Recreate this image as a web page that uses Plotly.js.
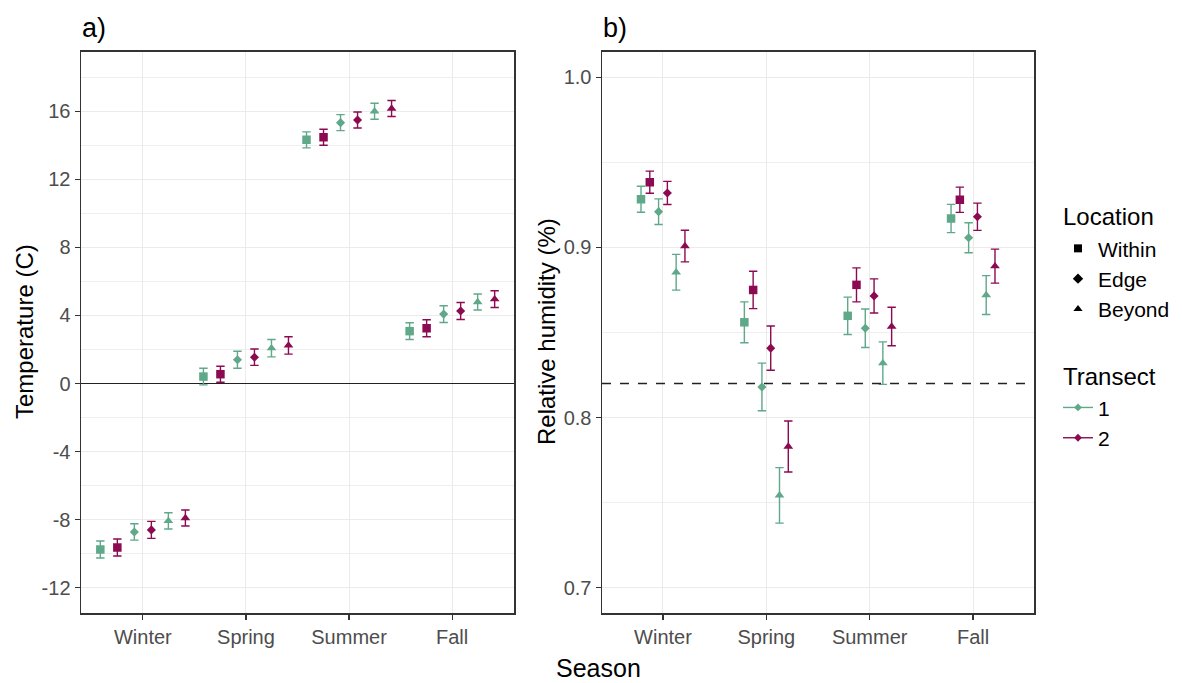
<!DOCTYPE html>
<html>
<head>
<meta charset="utf-8">
<script src="https://cdn.plot.ly/plotly-3.0.1.min.js"></script>
<style>html,body{margin:0;padding:0;background:#fff;}#chart{width:1182px;height:683px;}</style>
</head>
<body>
<div id="chart"></div>
<script>
// ---- data ----
const seasons = ['Winter', 'Spring', 'Summer', 'Fall'];
const locations = ['Within', 'Edge', 'Beyond'];
const transects = ['1', '2'];

// Temperature (C): mean and error per season
const tempWithin1 = [-9.75, 0.41, 14.32, 3.08];
const tempWithin1Err = [0.50, 0.49, 0.47, 0.49];
const tempWithin2 = [-9.63, 0.55, 14.47, 3.25];
const tempWithin2Err = [0.50, 0.47, 0.47, 0.50];
const tempEdge1 = [-8.72, 1.40, 15.33, 4.08];
const tempEdge1Err = [0.48, 0.50, 0.47, 0.49];
const tempEdge2 = [-8.60, 1.55, 15.49, 4.26];
const tempEdge2Err = [0.50, 0.48, 0.47, 0.50];
const tempBeyond1 = [-8.07, 2.08, 16.00, 4.79];
const tempBeyond1Err = [0.48, 0.51, 0.47, 0.47];
const tempBeyond2 = [-7.90, 2.24, 16.16, 4.96];
const tempBeyond2Err = [0.47, 0.51, 0.47, 0.49];

// Relative humidity: mean and error per season
const rhWithin1 = [0.9283, 0.856, 0.8598, 0.917];
const rhWithin1Err = [0.0076, 0.012, 0.011, 0.0083];
const rhWithin2 = [0.9383, 0.875, 0.878, 0.928];
const rhWithin2Err = [0.0065, 0.011, 0.010, 0.0074];
const rhEdge1 = [0.921, 0.818, 0.8525, 0.9057];
const rhEdge1Err = [0.0075, 0.014, 0.0113, 0.0088];
const rhEdge2 = [0.932, 0.8408, 0.8715, 0.918];
const rhEdge2Err = [0.0068, 0.013, 0.010, 0.008];
const rhBeyond1 = [0.8854, 0.7543, 0.832, 0.872];
const rhBeyond1Err = [0.0105, 0.0163, 0.0125, 0.0114];
const rhBeyond2 = [0.9008, 0.783, 0.8535, 0.889];
const rhBeyond2Err = [0.0093, 0.015, 0.0113, 0.010];

// axis ticks
const tempTicks = [-12, -8, -4, 0, 4, 8, 12, 16];
const tempTickLabels = ['-12', '-8', '-4', '0', '4', '8', '12', '16'];
const rhTicks = [0.7, 0.8, 0.9, 1.0];
const rhTickLabels = ['0.7', '0.8', '0.9', '1.0'];

const rhRef = 0.82;

// ---- styling ----
const colors = {'1': '#5fa88a', '2': '#8c0a52'};
const symbols = {'Within': 'square', 'Edge': 'diamond', 'Beyond': 'triangle-up'};
const sizes = {'Within': 8.5, 'Edge': 7, 'Beyond': 8.5};
const FONT = 'Liberation Sans, Arial, sans-serif';

const tempSeries = [
  [tempWithin1, tempWithin1Err], [tempWithin2, tempWithin2Err],
  [tempEdge1, tempEdge1Err], [tempEdge2, tempEdge2Err],
  [tempBeyond1, tempBeyond1Err], [tempBeyond2, tempBeyond2Err]
];
const rhSeries = [
  [rhWithin1, rhWithin1Err], [rhWithin2, rhWithin2Err],
  [rhEdge1, rhEdge1Err], [rhEdge2, rhEdge2Err],
  [rhBeyond1, rhBeyond1Err], [rhBeyond2, rhBeyond2Err]
];

const traces = [];
function addPanel(series, xa, ya, step) {
  let k = 0;
  locations.forEach(loc => {
    transects.forEach(tr => {
      const [vals, errs] = series[k];
      const off = (k - 2.5) * step;
      traces.push({
        type: 'scatter', mode: 'markers',
        x: seasons.map((s, i) => i + 1 + off),
        y: vals,
        xaxis: xa, yaxis: ya,
        showlegend: false,
        hoverinfo: 'y',
        marker: {symbol: symbols[loc], size: sizes[loc], color: colors[tr]},
        error_y: {type: 'data', array: errs, visible: true, color: colors[tr], thickness: 1.4, width: 4.2}
      });
      k++;
    });
  });
}
addPanel(tempSeries, 'x', 'y', 0.165);
addPanel(rhSeries, 'x2', 'y2', 0.085);

// legend entries
locations.forEach(loc => {
  traces.push({
    type: 'scatter', mode: 'markers', x: [null], y: [null], xaxis: 'x', yaxis: 'y',
    name: loc, legendgroup: 'loc',
    legendgrouptitle: {text: 'Location', font: {size: 24, color: '#000', family: FONT}},
    marker: {symbol: symbols[loc], size: 8, color: '#000'}
  });
});
transects.forEach(tr => {
  traces.push({
    type: 'scatter', mode: 'lines+markers', x: [null], y: [null], xaxis: 'x', yaxis: 'y',
    name: tr, legendgroup: 'tr',
    legendgrouptitle: {text: 'Transect', font: {size: 24, color: '#000', family: FONT}},
    line: {color: colors[tr], width: 1.4},
    marker: {symbol: 'diamond', size: 6, color: colors[tr]}
  });
});

const axisCommon = {
  showline: true, mirror: true, linecolor: '#333', linewidth: 1.5,
  ticks: 'outside', ticklen: 5, tickcolor: '#333', tickwidth: 1.2,
  gridcolor: '#ebebeb', gridwidth: 1, zeroline: false,
  tickfont: {size: 20, color: '#4d4d4d', family: FONT}
};

const layout = {
  width: 1182, height: 683, autosize: false,
  margin: {l: 0, r: 0, t: 0, b: 0},
  paper_bgcolor: '#fff', plot_bgcolor: '#fff',
  font: {family: FONT},
  xaxis: Object.assign({}, axisCommon, {domain: [81/1182, 514/1182], range: [0.4, 4.6], tickvals: [1, 2, 3, 4], ticktext: seasons}),
  yaxis: Object.assign({}, axisCommon, {domain: [1 - 613.3/683, 1 - 51.7/683], range: [-13.5, 19.5], tickvals: tempTicks, ticktext: tempTickLabels,
    zeroline: true, zerolinecolor: '#222', zerolinewidth: 1.4,
    minor: {dtick: 2, tick0: 0, showgrid: true, gridcolor: '#efefef', gridwidth: 1, ticks: ''}}),
  xaxis2: Object.assign({}, axisCommon, {domain: [602/1182, 1034/1182], range: [0.41, 4.59], tickvals: [1, 2, 3, 4], ticktext: seasons, anchor: 'y2'}),
  yaxis2: Object.assign({}, axisCommon, {domain: [1 - 613.3/683, 1 - 51.7/683], range: [0.685, 1.015], tickvals: rhTicks, ticktext: rhTickLabels, anchor: 'x2',
    minor: {dtick: 0.05, tick0: 0, showgrid: true, gridcolor: '#efefef', gridwidth: 1, ticks: ''}}),
  shapes: [
    {type: 'line', xref: 'x2 domain', yref: 'y2', x0: 0, x1: 1, y0: rhRef, y1: rhRef, line: {color: '#222', width: 1.4, dash: 'dash'}, layer: 'above'}
  ],
  legend: {
    x: 1058/1182, y: 1 - 194/683, xanchor: 'left', yanchor: 'top',
    font: {size: 21, color: '#000', family: FONT},
    tracegroupgap: 34, bgcolor: 'rgba(0,0,0,0)'
  },
  annotations: [
    {text: 'a)', xref: 'paper', yref: 'paper', x: 80/1182, y: 1 - 28/683, xanchor: 'left', yanchor: 'middle', showarrow: false, font: {size: 27, color: '#000', family: FONT}},
    {text: 'b)', xref: 'paper', yref: 'paper', x: 601/1182, y: 1 - 28/683, xanchor: 'left', yanchor: 'middle', showarrow: false, font: {size: 27, color: '#000', family: FONT}},
    {text: 'Temperature (C)', xref: 'paper', yref: 'paper', x: 24/1182, y: 1 - 332/683, xanchor: 'center', yanchor: 'middle', textangle: -90, showarrow: false, font: {size: 24, color: '#000', family: FONT}},
    {text: 'Relative humidity (%)', xref: 'paper', yref: 'paper', x: 546/1182, y: 1 - 332/683, xanchor: 'center', yanchor: 'middle', textangle: -90, showarrow: false, font: {size: 24, color: '#000', family: FONT}},
    {text: 'Season', xref: 'paper', yref: 'paper', x: 598/1182, y: 1 - 668/683, xanchor: 'center', yanchor: 'middle', showarrow: false, font: {size: 25, color: '#000', family: FONT}}
  ]
};

Plotly.newPlot('chart', traces, layout, {displayModeBar: false, staticPlot: true});
</script>
</body>
</html>
